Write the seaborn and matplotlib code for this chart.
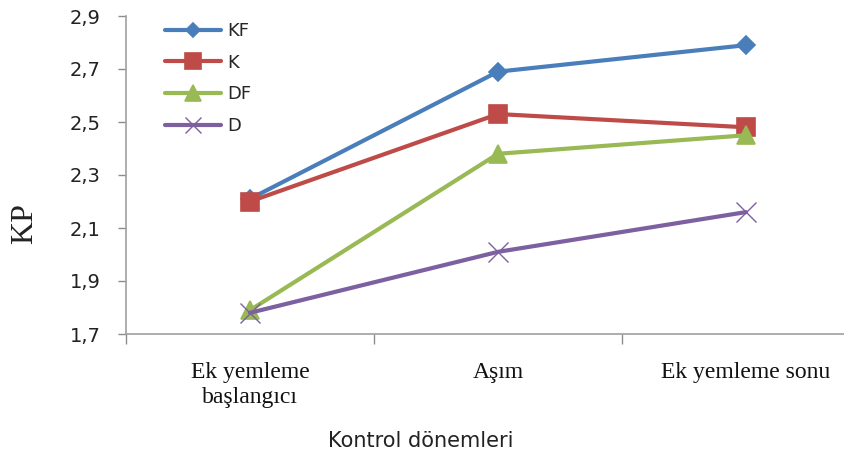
import matplotlib
matplotlib.use("Agg")
import matplotlib.pyplot as plt
import seaborn as sns
import pandas as pd
from matplotlib.ticker import FixedLocator, FuncFormatter

categories = ["Ek yemleme\nbaşlangıcı", "Aşım", "Ek yemleme sonu"]
series_names = ["KF", "K", "DF", "D"]
kf = [2.21, 2.69, 2.79]
k = [2.20, 2.53, 2.48]
df_vals = [1.79, 2.38, 2.45]
d = [1.78, 2.01, 2.16]
y_ticks = [1.7, 1.9, 2.1, 2.3, 2.5, 2.7, 2.9]

sns.set_theme(style="white")
plt.rcParams["font.family"] = ["DejaVu Sans"]

palette = {"KF": "#4A7EBB", "K": "#BE4B48", "DF": "#98B954", "D": "#7D60A0"}
markers = {"KF": "D", "K": "s", "DF": "^", "D": "x"}
size_map = {"KF": 9, "K": 13.5, "DF": 13.5, "D": 14}
legend_size = {"KF": 7.5, "K": 12, "DF": 12, "D": 12}

fig = plt.figure(figsize=(8.44, 4.54), dpi=100)
ax = fig.add_axes([126/844, 1-334/454, 744/844, 318/454])

for name, vals in zip(series_names, [kf, k, df_vals, d]):
    sdf = pd.DataFrame({"pos": range(len(vals)), "value": vals})
    sns.lineplot(data=sdf, x="pos", y="value", color=palette[name],
                 marker=markers[name], markersize=size_map[name],
                 markeredgewidth=(1.0 if name == "D" else 1.2),
                 markeredgecolor=palette[name],
                 linewidth=3, ax=ax, label=name)

ax.set_xlim(-0.5, 2.5)
ax.set_ylim(1.7, 2.9)
ax.yaxis.set_major_locator(FixedLocator(y_ticks))
ax.yaxis.set_major_formatter(FuncFormatter(lambda v, p: f"{v:.1f}".replace(".", ",")))
ax.set_xticks(range(len(categories)))
ax.set_xticklabels(categories, family="Liberation Serif", fontsize=17, linespacing=1.25,
                   color="#111111")
ax.xaxis.set_minor_locator(FixedLocator([-0.5, 0.5, 1.5, 2.5]))
ax.tick_params(axis="x", which="major", length=0, pad=20)
ax.tick_params(axis="x", which="minor", length=7, color="#8C8C8C", width=1, direction="out", bottom=True)
ax.tick_params(axis="y", which="major", length=6, color="#8C8C8C", width=1, direction="out",
               left=True, labelsize=14, pad=12, labelcolor="#222222")
for s in ["top", "right"]:
    ax.spines[s].set_visible(False)
for s in ["left", "bottom"]:
    ax.spines[s].set_color("#A0A0A0")
    ax.spines[s].set_linewidth(1.2)
ax.set_xlabel("")
ax.set_ylabel("")

handles, labels = ax.get_legend_handles_labels()
leg = ax.legend(handles, labels, loc="upper left", frameon=False,
                bbox_to_anchor=(165/844, 1-22/454), bbox_transform=fig.transFigure,
                borderpad=0, borderaxespad=0, handlelength=3.1, handletextpad=0.35,
                labelspacing=0.76, prop={"family": "DejaVu Sans", "size": 13})
for h, name in zip(leg.legend_handles, labels):
    h.set_markersize(legend_size[name])

fig.text(421/844, 1-441/454, "Kontrol dönemleri", ha="center", va="center",
         family="DejaVu Sans", fontsize=15, color="#222222")
fig.text(25/844, 1-224/454, "KP", ha="center", va="center", rotation=90,
         family="Liberation Serif", fontsize=23, color="#222222")

fig.savefig("out.png", dpi=100)
